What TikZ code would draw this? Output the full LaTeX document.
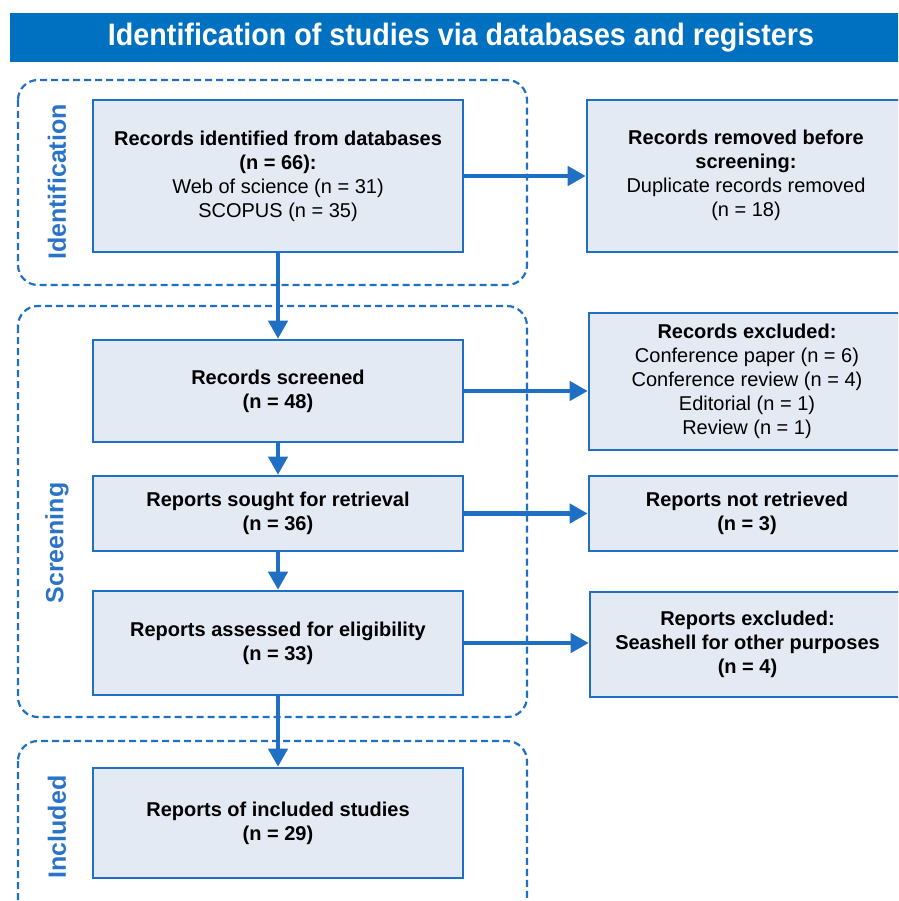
\documentclass[tikz,border=0pt]{standalone}
\usepackage{fontspec}
\setmainfont{Liberation Sans}
\usepackage{graphicx}
\usetikzlibrary{arrows.meta,positioning}
\definecolor{bar}{HTML}{0070C0}
\definecolor{edge}{HTML}{1F6FC5}
\definecolor{fillc}{HTML}{E3EAF4}
\definecolor{lab}{HTML}{2B73C8}
\tikzset{
  stepbox/.style={draw=edge, line width=2.6pt, fill=fillc, align=center, inner sep=0pt,
    font=\fontsize{20}{24}\selectfont, text=black},
  phase/.style={draw=edge, line width=2.2pt, dash pattern=on 7pt off 4pt, rounded corners=20pt},
  phaselab/.style={rotate=90, text=lab, font=\fontsize{25}{30}\selectfont\bfseries},
  flow/.style={draw=edge, line width=4.2pt, -{Triangle[length=18pt,width=19pt]}},
}
\newcommand{\bx}[6]{% name, left, top, right, bottom, text
  \node[stepbox, minimum width=#4pt-#2pt, minimum height=#5pt-#3pt] (#1) at ({(#2+#4)/2},{(#3+#5)/2}) {#6};}
\begin{document}
\begin{tikzpicture}[x=1pt,y=-1pt]
\useasboundingbox (0,0) rectangle (898,901);
\clip (0,0) rectangle (898,901);
% title
\fill[bar] (10,13) rectangle (915,62);
\node[text=white, font=\fontsize{31}{34}\selectfont\bfseries] (title) at (461,37.5)
  {\resizebox{706pt}{\height}{Identification of studies via databases and registers}};
% phases
\draw[phase] (18,80) rectangle (527,285);
\draw[phase] (18,306) rectangle (527,717);
\draw[phase] (18,741) rectangle (527,930);
\node[phaselab] (lid) at (57,182) {Identification};
\node[phaselab] (lsc) at (57,543) {Screening};
\node[phaselab] (lin) at (57,827) {Included};
% boxes
\bx{idb}{93}{100}{463}{252}{\textbf{Records\ identified from databases}\\ \textbf{(n = 66):}\\ Web of science (n\ = 31)\\ SCOPUS (n = 35)}
\bx{rem}{587}{100}{905}{252}{\raisebox{11pt}{\begin{tabular}{@{}c@{}}\textbf{Records\ removed before}\\ \textbf{screening:}\\ Duplicate records removed\\ (n = 18)\end{tabular}}}
\bx{scr}{93}{340}{463}{442}{\textbf{Records\ screened}\\ \textbf{(n = 48)}}
\bx{exc}{589}{313}{905}{450}{\textbf{Records\ excluded:}\\ Conference\ paper\ (n = 6)\\ Conference\ review\ (n = 4)\\ Editorial (n = 1)\\ Review\ (n = 1)}
\bx{sou}{93}{476}{463}{551}{\textbf{Reports sought for retrieval}\\ \textbf{(n = 36)}}
\bx{nre}{589}{476}{905}{551}{\textbf{Reports\ not retrieved}\\ \textbf{(n = 3)}}
\bx{ass}{93}{591}{463}{695}{\textbf{Reports\ assessed\ for eligibility}\\ \textbf{(n = 33)}}
\bx{rex}{590}{592}{905}{697}{\textbf{Reports\ excluded:}\\ \textbf{Seashell for other purposes}\\ \textbf{(n = 4)}}
\bx{inc}{93}{768}{463}{878}{\textbf{Reports\ of included studies}\\ \textbf{(n = 29)}}
% connectors
\draw[flow] (idb.south) -- (scr.north);
\draw[flow] (scr.south) -- (sou.north);
\draw[flow] (sou.south) -- (ass.north);
\draw[flow] (ass.south) -- (inc.north);
\draw[flow] (idb.east) -- (idb.east -| rem.west);
\draw[flow] (scr.east) -- (scr.east -| exc.west);
\draw[flow] (sou.east) -- (sou.east -| nre.west);
\draw[flow] (ass.east) -- (ass.east -| rex.west);
\end{tikzpicture}
\end{document}
